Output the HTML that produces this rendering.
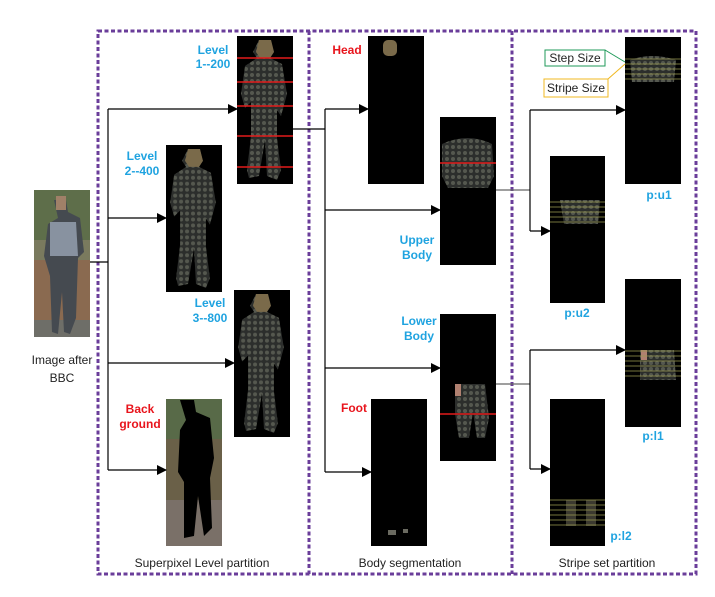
<!DOCTYPE html>
<html><head><meta charset="utf-8"><style>
html,body{margin:0;padding:0;background:#fff;}
svg{display:block;}
.b{font-family:"Liberation Sans",sans-serif;font-weight:bold;font-size:12px;}
.bl{fill:#1fa3e0;}
.rd{fill:#e8141c;}
.n{font-family:"Liberation Sans",sans-serif;font-size:12px;fill:#222;}
</style></head><body>
<svg width="715" height="597" viewBox="0 0 715 597" xmlns="http://www.w3.org/2000/svg">
<defs>
<marker id="a" markerWidth="10" markerHeight="10" refX="9" refY="5" orient="auto" markerUnits="userSpaceOnUse"><path d="M0,0 L10,5 L0,10 z" fill="#000"/></marker>
<pattern id="pt" width="6" height="6" patternUnits="userSpaceOnUse"><rect width="6" height="6" fill="#2c2e2c"/><circle cx="3" cy="3" r="2" fill="#55584f"/></pattern>
<symbol id="fig" viewBox="0 0 56 148">
<path d="M22,4 h12 l3,12 l-4,6 l12,6 l5,30 l-6,22 l-4,-6 l0,28 l4,32 l-4,10 l-10,-4 l-2,-36 l-6,36 l-10,2 l-2,-8 l4,-34 l0,-34 l-6,6 l-4,-14 l4,-28 l12,-8 l-4,-6 z" fill="url(#pt)"/>
<path d="M22,4 h12 l3,12 l-4,6 h-10 l-4,-6 z" fill="#7a6a4a"/>
</symbol>
</defs>

<g fill="none" stroke="#6a3d9a" stroke-width="3" stroke-dasharray="4,2.5">
<rect x="98" y="31" width="598" height="543"/>
<line x1="309" y1="31" x2="309" y2="574"/>
<line x1="512" y1="31" x2="512" y2="574"/>
</g>

<rect x="34" y="190" width="56" height="147" fill="#7a7a5e"/>
<rect x="34" y="190" width="56" height="50" fill="#5e6e4a"/>
<rect x="34" y="260" width="56" height="77" fill="#8a6a50"/>
<rect x="34" y="320" width="56" height="17" fill="#6e6e68"/>
<path d="M54,200 h12 l2,12 l12,6 l4,34 l-6,6 l-2,60 l-6,16 l-6,-2 l-2,-40 l-4,42 l-6,-2 l-2,-56 l-6,-20 l4,-32 l10,-6 z" fill="#454a50"/>
<path d="M50,222 l26,0 l2,34 l-28,0 z" fill="#8892a0"/>
<rect x="56" y="196" width="10" height="14" fill="#a08068"/>

<rect x="237" y="36" width="56" height="148" fill="#000"/><use href="#fig" x="237" y="36" width="56" height="148"/>
<rect x="166" y="145" width="56" height="147" fill="#000"/><use href="#fig" x="166" y="145" width="56" height="147"/>
<rect x="234" y="290" width="56" height="147" fill="#000"/><use href="#fig" x="234" y="290" width="56" height="147"/>
<g stroke="#e21a1a" stroke-width="1.5">
<line x1="237" y1="58" x2="293" y2="58"/><line x1="237" y1="82" x2="293" y2="82"/><line x1="237" y1="106" x2="293" y2="106"/><line x1="237" y1="136" x2="293" y2="136"/><line x1="237" y1="167" x2="293" y2="167"/>
</g>
<rect x="166" y="399" width="56" height="147" fill="#6a6048"/>
<rect x="166" y="399" width="56" height="40" fill="#586a48"/>
<rect x="166" y="500" width="56" height="46" fill="#7a7068"/>
<path d="M180,400 h14 l2,12 l14,6 l4,40 l-4,20 l2,50 l-8,8 l-6,-40 l-4,40 l-10,2 l0,-56 l-6,-10 l2,-42 l6,-10 z" fill="#000"/>

<rect x="368" y="36" width="56" height="148" fill="#000"/><rect x="383" y="40" width="14" height="16" rx="5" fill="#7a6a4a"/>
<rect x="440" y="117" width="56" height="148" fill="#000"/><path d="M442,144 q26,-12 50,0 l2,32 l-6,12 l-40,0 l-6,-12 z" fill="url(#pt)"/>
<line x1="440" y1="163" x2="496" y2="163" stroke="#e21a1a" stroke-width="1.5"/>
<rect x="440" y="314" width="56" height="147" fill="#000"/><path d="M455,384 h30 l4,34 l-4,20 l-8,0 l-4,-26 l-4,26 l-10,0 l-4,-24 z" fill="url(#pt)"/><rect x="455" y="384" width="6" height="12" fill="#b08070"/>
<line x1="440" y1="414" x2="496" y2="414" stroke="#e21a1a" stroke-width="1.5"/>
<rect x="371" y="399" width="56" height="147" fill="#000"/><rect x="388" y="530" width="8" height="5" fill="#6a6a60"/><rect x="403" y="529" width="5" height="4" fill="#6a6a60"/>

<rect x="625" y="37" width="56" height="147" fill="#000"/><path d="M630,60 q22,-8 46,0 l-2,22 l-42,0 z" fill="url(#pt)"/>
<rect x="550" y="156" width="55" height="147" fill="#000"/><path d="M560,200 h40 l-2,24 l-34,0 z" fill="url(#pt)"/>
<rect x="625" y="279" width="56" height="148" fill="#000"/><path d="M640,350 h34 l2,30 l-36,0 z" fill="url(#pt)"/><rect x="641" y="350" width="6" height="10" fill="#b08070"/>
<rect x="550" y="399" width="55" height="147" fill="#000"/><rect x="566" y="500" width="10" height="26" fill="#3c3a30"/><rect x="586" y="500" width="10" height="26" fill="#3c3a30"/>
<g stroke="#9a9a50" stroke-width="0.7">
<line x1="625" y1="59" x2="681" y2="59"/><line x1="625" y1="64" x2="681" y2="64"/><line x1="625" y1="69" x2="681" y2="69"/><line x1="625" y1="74" x2="681" y2="74"/><line x1="625" y1="79" x2="681" y2="79"/>
<line x1="550" y1="202" x2="605" y2="202"/><line x1="550" y1="207" x2="605" y2="207"/><line x1="550" y1="212" x2="605" y2="212"/><line x1="550" y1="217" x2="605" y2="217"/><line x1="550" y1="222" x2="605" y2="222"/>
<line x1="625" y1="351" x2="681" y2="351"/><line x1="625" y1="356" x2="681" y2="356"/><line x1="625" y1="361" x2="681" y2="361"/><line x1="625" y1="366" x2="681" y2="366"/><line x1="625" y1="371" x2="681" y2="371"/><line x1="625" y1="376" x2="681" y2="376"/>
<line x1="550" y1="500" x2="605" y2="500"/><line x1="550" y1="505" x2="605" y2="505"/><line x1="550" y1="510" x2="605" y2="510"/><line x1="550" y1="515" x2="605" y2="515"/><line x1="550" y1="520" x2="605" y2="520"/><line x1="550" y1="525" x2="605" y2="525"/>
</g>

<rect x="545" y="50" width="60" height="16" fill="#fff" stroke="#1f9a5a" stroke-width="1"/>
<text x="575" y="62" class="n" text-anchor="middle">Step Size</text>
<line x1="605" y1="50" x2="625" y2="62" stroke="#1f9a5a"/>
<rect x="544" y="79" width="64" height="18" fill="#fff" stroke="#f0b820" stroke-width="1"/>
<text x="576" y="92" class="n" text-anchor="middle">Stripe Size</text>
<line x1="608" y1="79" x2="625" y2="64" stroke="#f0b820"/>

<g stroke="#000" stroke-width="1.2" fill="none">
<line x1="90" y1="262" x2="108" y2="262"/>
<line x1="108" y1="109" x2="108" y2="470"/>
<line x1="108" y1="109" x2="237" y2="109" marker-end="url(#a)"/>
<line x1="108" y1="218" x2="166" y2="218" marker-end="url(#a)"/>
<line x1="108" y1="363" x2="234" y2="363" marker-end="url(#a)"/>
<line x1="108" y1="470" x2="166" y2="470" marker-end="url(#a)"/>
<line x1="293" y1="129" x2="325" y2="129"/>
<line x1="325" y1="109" x2="325" y2="472"/>
<line x1="325" y1="109" x2="368" y2="109" marker-end="url(#a)"/>
<line x1="325" y1="210" x2="440" y2="210" marker-end="url(#a)"/>
<line x1="325" y1="368" x2="440" y2="368" marker-end="url(#a)"/>
<line x1="325" y1="472" x2="371" y2="472" marker-end="url(#a)"/>
<line x1="496" y1="190" x2="530" y2="190" stroke="#666"/>
<line x1="530" y1="110" x2="530" y2="231"/>
<line x1="530" y1="110" x2="625" y2="110" marker-end="url(#a)"/>
<line x1="530" y1="231" x2="550" y2="231" marker-end="url(#a)"/>
<line x1="496" y1="384" x2="530" y2="384" stroke="#666"/>
<line x1="530" y1="350" x2="530" y2="469"/>
<line x1="530" y1="350" x2="625" y2="350" marker-end="url(#a)"/>
<line x1="530" y1="469" x2="550" y2="469" marker-end="url(#a)"/>
</g>

<g class="b bl" text-anchor="middle">
<text x="213" y="54">Level</text><text x="213" y="68">1--200</text>
<text x="142" y="160">Level</text><text x="142" y="175">2--400</text>
<text x="210" y="307">Level</text><text x="210" y="322">3--800</text>
<text x="417" y="244">Upper</text><text x="417" y="259">Body</text>
<text x="419" y="325">Lower</text><text x="419" y="340">Body</text>
<text x="659" y="199">p:u1</text>
<text x="577" y="317">p:u2</text>
<text x="653" y="440">p:l1</text>
<text x="621" y="540">p:l2</text>
</g>
<g class="b rd" text-anchor="middle">
<text x="140" y="413">Back</text><text x="140" y="428">ground</text>
<text x="347" y="54">Head</text>
<text x="354" y="412">Foot</text>
</g>
<g class="n" text-anchor="middle">
<text x="62" y="364">Image after</text><text x="62" y="382">BBC</text>
<text x="202" y="567">Superpixel Level partition</text>
<text x="410" y="567">Body segmentation</text>
<text x="607" y="567">Stripe set partition</text>
</g>
</svg>
</body></html>
